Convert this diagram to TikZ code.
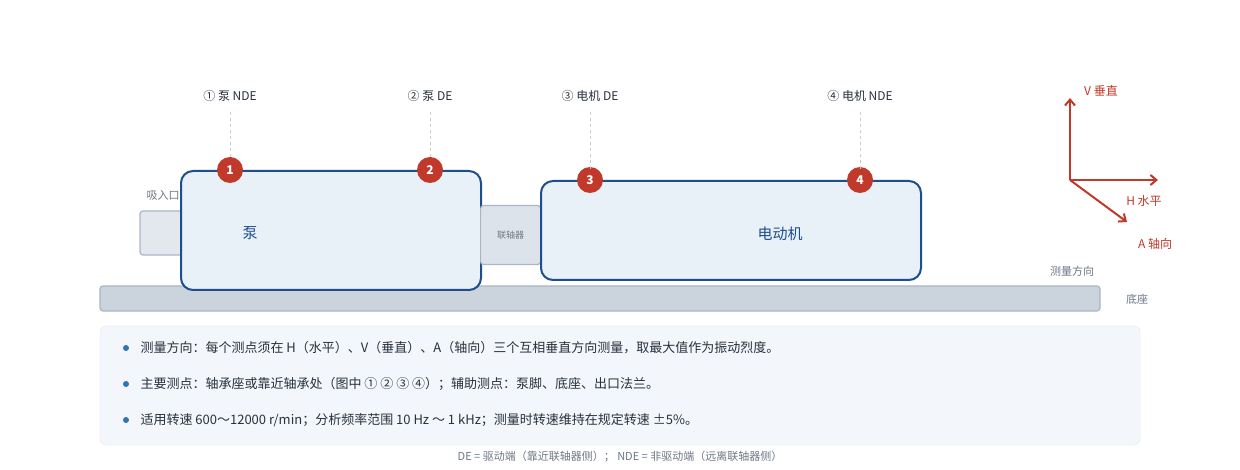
\documentclass[tikz,border=0pt]{standalone}
\usepackage{fontspec}
\setmainfont{Noto Sans CJK SC}
\usetikzlibrary{arrows.meta}
\begin{document}
\begin{tikzpicture}[x=1pt,y=-1pt,
 fs/.style={font=\fontsize{#1}{#1}\selectfont},
 badge/.style={circle,fill={rgb,255:red,192;green,57;blue,43},minimum size=26pt,inner sep=0pt,text=white,font=\fontsize{12}{12}\selectfont\bfseries},
 lbl/.style={fs=12,text={rgb,255:red,40;green,48;blue,60}},
 dsh/.style={draw={rgb,255:red,200;green,206;blue,214},dashed,line width=1pt},
 ax/.style={draw={rgb,255:red,192;green,57;blue,43},line width=2pt,->,>={Straight Barb[length=6pt,width=10pt]}},
 axl/.style={fs=12,text={rgb,255:red,192;green,57;blue,43}},
 gr/.style={text={rgb,255:red,110;green,120;blue,135}},
 dev/.style={draw={rgb,255:red,31;green,78;blue,140},line width=2pt,fill={rgb,255:red,232;green,240;blue,248},rounded corners=12pt},
 aux/.style={draw={rgb,255:red,169;green,182;blue,198},line width=1.2pt,rounded corners=3pt},
 bul/.style={circle,fill={rgb,255:red,46;green,117;blue,182},inner sep=0pt,minimum size=6pt},
 txt/.style={anchor=west,fs=13,text={rgb,255:red,40;green,48;blue,60}}]
\useasboundingbox (0,0) rectangle (1240,470);
\fill[white] (0,0) rectangle (1240,470);
\draw[aux,fill={rgb,255:red,227;green,232;blue,238}] (140,211) rectangle (184,255);
\node[gr,fs=11] (inl) at (163,195) {吸入口};
\draw[aux,fill={rgb,255:red,203;green,211;blue,221}] (100,286) rectangle (1100,311);
\node[dev,minimum width=300pt,minimum height=119pt,anchor=north west] (pump) at (180,170) {};
\node[fs=15,text={rgb,255:red,31;green,78;blue,140}] (pl) at (250,233) {泵};
\node[aux,fill={rgb,255:red,221;green,227;blue,234},minimum width=60pt,minimum height=59pt,anchor=north west,gr,fs=9] (cp) at (480,205) {联轴器};
\node[dev,minimum width=380pt,minimum height=99pt,anchor=north west] (mot) at (540,180) {};
\node[fs=15,text={rgb,255:red,31;green,78;blue,140}] (ml) at (780,234) {电动机};
\foreach \i/\x/\y/\t in {1/230/170/① 泵 NDE,2/430/170/② 泵 DE,3/590/180/③ 电机 DE,4/860/180/④ 电机 NDE}{
 \node[lbl] (t\i) at (\x,96) {\t};
 \coordinate (c\i) at (\x,112);
 \node[badge] (b\i) at (\x,\y) {\i};
 \draw[dsh] (c\i) -- ([yshift=-2pt]b\i.north);
}
\coordinate (o) at (1070,180);
\coordinate (v) at (1070,98);
\coordinate (h) at (1158,180);
\coordinate (a) at (1127,222);
\draw[ax] (o) -- (v);
\draw[ax] (o) -- (h);
\draw[ax] (o) -- (a);
\node[axl] (vl) at (1101,91) {V 垂直};
\node[axl] (hl) at (1144,201) {H 水平};
\node[axl] (al) at (1155,244) {A 轴向};
\node[gr,fs=11] (md) at (1072,271) {测量方向};
\node[gr,fs=11] (dz) at (1137,299) {底座};
\draw[draw={rgb,255:red,221;green,230;blue,239},fill={rgb,255:red,243;green,247;blue,251},rounded corners=6pt] (100,326) rectangle (1140,445);
\foreach \y/\t in {348/{测量方向：每个测点须在 H（水平）、V（垂直）、A（轴向）三个互相垂直方向测量，取最大值作为振动烈度。},384/{主要测点：轴承座或靠近轴承处（图中 ① ② ③ ④）；辅助测点：泵脚、底座、出口法兰。},420/{适用转速 600～12000 r/min；分析频率范围 10 Hz ～ 1 kHz；测量时转速维持在规定转速 ±5\%。}}{
 \node[bul] at (126,\y) {};
 \node[txt] at (137,\y) {\t};
}
\node[gr,fs=11] (ft) at (620,457) {DE = 驱动端（靠近联轴器侧）； NDE = 非驱动端（远离联轴器侧）};
\end{tikzpicture}
\end{document}
